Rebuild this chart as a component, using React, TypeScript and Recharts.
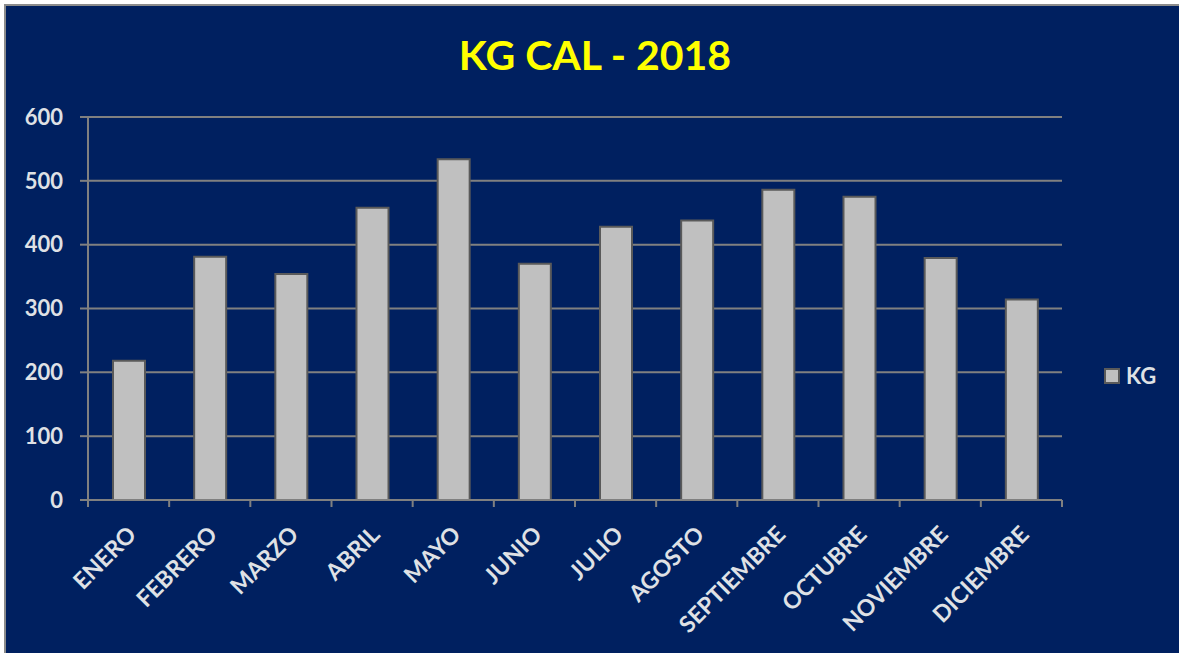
import { Bar, BarChart, CartesianGrid, Legend, XAxis, YAxis } from "recharts";

const MONTHS = [
  "ENERO",
  "FEBRERO",
  "MARZO",
  "ABRIL",
  "MAYO",
  "JUNIO",
  "JULIO",
  "AGOSTO",
  "SEPTIEMBRE",
  "OCTUBRE",
  "NOVIEMBRE",
  "DICIEMBRE",
];
const KG = [218, 381, 354, 458, 534, 370, 428, 438, 486, 475, 379, 314];
const Y_TICKS = [0, 100, 200, 300, 400, 500, 600];

const data = MONTHS.map((m, i) => ({ month: m, kg: KG[i] }));

const BG = "#002060";
const GRID = "#808080";
const LABEL = "#dfe1e5";
const FONT = "Lato, 'DejaVu Sans', sans-serif";

function MonthTick(props: any) {
  const { x, y, payload, index } = props;
  const half = payload.offset ?? 40.6;
  return (
    <g>
      <line x1={x - half} y1={y} x2={x - half} y2={y + 7} stroke={GRID} strokeWidth={2} />
      {index === MONTHS.length - 1 && (
        <line x1={x + half} y1={y} x2={x + half} y2={y + 7} stroke={GRID} strokeWidth={2} />
      )}
      <text
        transform={`translate(${x + 9},${y + 36}) rotate(-45)`}
        textAnchor="end"
        fill={LABEL}
        fontFamily={FONT}
        fontWeight="bold"
        fontSize={23}
      >
        {payload.value}
      </text>
    </g>
  );
}

function KgLegend() {
  return (
    <div style={{ display: "flex", alignItems: "center", fontFamily: FONT }}>
      <span
        style={{
          width: 12,
          height: 12,
          background: "#c0c0c0",
          border: "2px solid #5a5a5a",
          marginRight: 6,
        }}
      />
      <span style={{ color: LABEL, fontWeight: "bold", fontSize: 22 }}>KG</span>
    </div>
  );
}

export default function App() {
  return (
    <div
      style={{
        position: "absolute",
        left: 0,
        top: 0,
        width: 1179,
        height: 653,
        background: "#ffffff",
        overflow: "hidden",
      }}
    >
      <div
        style={{
          position: "absolute",
          left: 4,
          top: 4,
          width: 1175,
          height: 649,
          background: BG,
          borderLeft: "2px solid #8c8c8c",
          borderTop: "2px solid #8c8c8c",
        }}
      >
        <div
          style={{
            position: "absolute",
            left: 0,
            top: 24,
            width: 1178,
            textAlign: "center",
            color: "#ffff00",
            fontFamily: FONT,
            fontWeight: "bold",
            fontSize: 41,
          }}
        >
          KG CAL - 2018
        </div>
        <BarChart
          width={1173}
          height={647}
          data={data}
          barSize={32}
          margin={{ top: 111, right: 117, bottom: 0, left: 0 }}
        >
          <CartesianGrid vertical={false} stroke={GRID} strokeWidth={2} />
          <XAxis
            dataKey="month"
            height={153}
            interval={0}
            stroke={GRID}
            strokeWidth={2}
            tickLine={false}
            tickSize={0}
            tickMargin={0}
            tick={<MonthTick />}
          />
          <YAxis
            width={82}
            domain={[0, 600]}
            ticks={Y_TICKS}
            stroke={GRID}
            strokeWidth={2}
            tickSize={8}
            tickMargin={17}
            tick={{ fill: LABEL, fontFamily: FONT, fontWeight: "bold", fontSize: 22 }}
          />
          <Legend
            layout="vertical"
            align="center"
            verticalAlign="middle"
            content={<KgLegend />}
            wrapperStyle={{ left: 1098, top: 356, width: 70 }}
          />
          <Bar
            dataKey="kg"
            name="KG"
            fill="#c0c0c0"
            stroke="#5a5a5a"
            strokeWidth={2}
            isAnimationActive={false}
          />
        </BarChart>
      </div>
    </div>
  );
}
